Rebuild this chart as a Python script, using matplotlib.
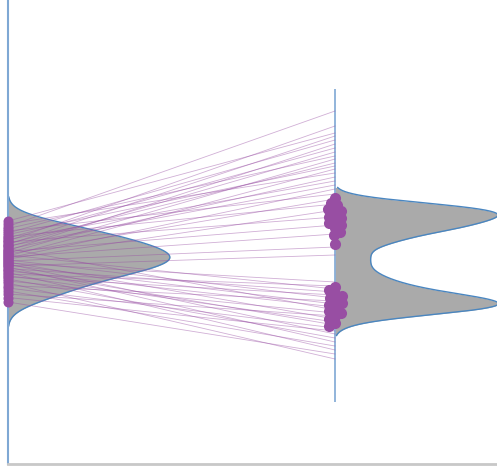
import numpy as np
import matplotlib
matplotlib.use("Agg")
import matplotlib.pyplot as plt

# scores before (left) and after (right)
left_vals = [48.6, 48.0, 47.5, 47.1, 46.6, 46.2, 45.9, 45.5, 45.2, 44.9,
             44.6, 44.4, 44.1, 43.9, 43.6, 43.4, 43.1, 42.9, 42.7, 42.5,
             42.2, 42.0, 41.8, 41.6, 41.4, 41.2, 41.0, 40.8, 40.6, 40.4,
             40.2, 40.0, 39.8, 39.6, 39.4, 39.1, 38.9, 38.6, 38.3, 38.0,
             37.7, 37.4, 37.0, 36.6, 36.2, 35.7, 35.2, 34.6, 34.0, 33.3, 32.4]

# where each connector lands on the right axis
line_ends = [66.2, 58.2, 70.6, 61.6, 54.0, 64.8, 59.6, 52.0, 63.2, 56.6,
             67.6, 49.4, 60.2, 65.6, 55.8, 62.4, 30.8, 57.4, 64.0, 47.8,
             61.0, 53.0, 35.0, 59.0, 46.0, 55.0,
             50.8, 33.2, 43.4, 29.0, 36.4, 26.0, 32.0, 41.8, 24.4, 34.4,
             27.8, 31.4, 22.8, 35.6, 28.4, 33.8, 25.2, 30.2, 21.0, 32.6,
             27.2, 23.6, 29.6, 26.6, 22.0]

right_vals = [53.2, 52.2, 51.8, 51.4, 51.0, 50.7, 50.4, 50.1, 49.8, 49.5,
              49.2, 48.9, 48.6, 48.2, 47.8, 47.3, 46.4, 45.9, 44.0,
              35.4, 34.8, 34.0, 33.6, 33.2, 32.8, 32.5, 32.2, 31.9, 31.6,
              31.3, 31.0, 30.6, 30.2, 29.7, 29.0, 28.2, 27.6]

# binned distribution of the after-scores (full sample)
right_bins = [54, 53, 52, 51, 50, 49, 48, 47, 46, 45, 44, 43, 42, 41,
              40, 39, 38, 37, 36, 35, 34, 33, 32, 31, 30, 29, 28, 27]
right_counts = [0.5, 2, 6, 9, 10, 9, 8, 7, 5, 4, 3, 2, 2, 2,
                2, 2, 2.5, 3, 4, 5, 7, 9, 10.3, 9, 6, 2.5, 1, 0.3]

PURPLE = "#984ea3"
EDGE = "#4a86c0"
AXBLUE = "#7fa8d4"

W, H = 497, 467
fig = plt.figure(figsize=(W / 100, H / 100), dpi=100)
ax = fig.add_axes([8 / W, 3 / H, 489 / W, 464 / H])
xmax = 489 / 327
ymax = 92.8
ax.set_xlim(0, xmax)
ax.set_ylim(0, ymax)
px_x = 327.0           # pixels per x unit
px_y = 464 / ymax      # pixels per y unit


def kde(vals, bw, cut, weights=None):
    vals = np.asarray(vals, dtype=float)
    if weights is None:
        weights = np.ones_like(vals)
    weights = np.asarray(weights, dtype=float)
    grid = np.linspace(vals.min() - cut * bw, vals.max() + cut * bw, 400)
    k = np.exp(-0.5 * ((grid[:, None] - vals[None, :]) / bw) ** 2)
    dens = (k * weights[None, :]).sum(axis=1)
    return grid, dens / dens.max()


def half_violin(x0, vals, bw, cut, width, weights=None):
    y, d = kde(vals, bw, cut, weights)
    ax.fill_betweenx(y, x0, x0 + d * width, color="#aaaaaa", lw=0, zorder=1)
    ax.plot(x0 + d * width, y, color=EDGE, lw=1.0, zorder=2)


def swarm(vals, sep_px):
    placed = []
    offs = []
    for v in vals:
        yp = v * px_y
        best = 0.0
        for cand in sorted(np.arange(-8, 8.5, 0.5), key=abs):
            ok = all((cand - o) ** 2 + (yp - q) ** 2 >= sep_px ** 2 for o, q in placed)
            if ok:
                best = cand
                break
        placed.append((best, yp))
        offs.append(best / px_x)
    return np.array(offs)


half_violin(0, left_vals, 2.0, 2.4, 0.495)
half_violin(1, right_bins, 1.0, 1.3, 0.5, right_counts)

for a, b in zip(left_vals, line_ends):
    ax.plot([0, 1], [a, b], color=PURPLE, alpha=0.45, lw=0.6, zorder=3)

ax.vlines(1, 12.4, 75.0, color=AXBLUE, lw=1.2, zorder=2)

ax.scatter(np.zeros(len(left_vals)), left_vals, s=52, color=PURPLE,
           lw=0, zorder=4, clip_on=False)
ax.scatter(1 + swarm(right_vals, 6.5), right_vals, s=64, color=PURPLE,
           lw=0, zorder=4)

for side in ["top", "right"]:
    ax.spines[side].set_visible(False)
ax.spines["left"].set_color(AXBLUE)
ax.spines["left"].set_linewidth(1.5)
ax.spines["left"].set_bounds(0, ymax + 1)
ax.spines["bottom"].set_color("#c8c8c8")
ax.spines["bottom"].set_linewidth(2)
ax.set_xticks([])
ax.set_yticks([])

fig.savefig("out.png", dpi=100)
